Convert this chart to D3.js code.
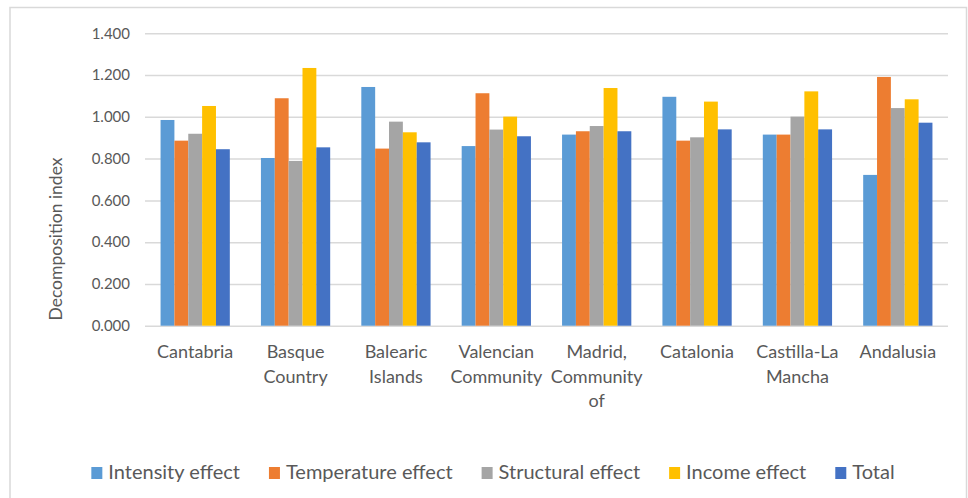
<!DOCTYPE html>
<html>
<head>
<meta charset="utf-8">
<script src="https://cdn.jsdelivr.net/npm/d3@7/dist/d3.min.js"></script>
<style>
  html, body { margin: 0; padding: 0; background: #ffffff; }
  svg { display: block; }
  text { font-family: Lato, "Open Sans", sans-serif; fill: #595959; }
</style>
</head>
<body>
<svg id="chart" width="968" height="498"></svg>
<script>
// Decomposition of the index by region
const regions = ["Cantabria", "Basque Country", "Balearic Islands", "Valencian Community",
                 "Madrid, Community of", "Catalonia", "Castilla-La Mancha", "Andalusia"];
const seriesNames = ["Intensity effect", "Temperature effect", "Structural effect", "Income effect", "Total"];
const intensityEffect   = [0.985, 0.803, 1.143, 0.860, 0.915, 1.096, 0.915, 0.722];
const temperatureEffect = [0.886, 1.089, 0.848, 1.113, 0.931, 0.886, 0.915, 1.191];
const structuralEffect  = [0.919, 0.789, 0.977, 0.939, 0.956, 0.902, 1.001, 1.042];
const incomeEffect      = [1.052, 1.234, 0.926, 1.001, 1.138, 1.073, 1.122, 1.084];
const totalIndex        = [0.845, 0.854, 0.878, 0.907, 0.931, 0.940, 0.940, 0.972];
const yTicks = [0, 0.2, 0.4, 0.6, 0.8, 1.0, 1.2, 1.4];
const seriesColors = ["#5B9BD5", "#ED7D31", "#A5A5A5", "#FFC000", "#4472C4"];

const seriesValues = [intensityEffect, temperatureEffect, structuralEffect, incomeEffect, totalIndex];

const svg = d3.select("#chart");
const plot = { left: 145, right: 948, top: 33.3, bottom: 325.7 };

// outer chart frame
svg.append("rect")
  .attr("x", 10).attr("y", 7.5)
  .attr("width", 956.5).attr("height", 500)
  .attr("fill", "#ffffff")
  .attr("stroke", "#D9D9D9").attr("stroke-width", 1.5);

const y = d3.scaleLinear().domain([0, 1.4]).range([plot.bottom, plot.top]);
const x0 = d3.scaleBand().domain(regions).range([plot.left, plot.right])
  .paddingInner(0.31).paddingOuter(0.155);
const x1 = d3.scaleBand().domain(seriesNames).range([0, x0.bandwidth()]).padding(0);

// gridlines + tick labels
const yAxis = d3.axisLeft(y).tickValues(yTicks)
  .tickSize(-(plot.right - plot.left)).tickPadding(15)
  .tickFormat(d3.format(".3f"));
const gy = svg.append("g").attr("transform", `translate(${plot.left},0)`).call(yAxis);
gy.select(".domain").remove();
gy.selectAll(".tick line").attr("stroke", "#D9D9D9").attr("stroke-width", 1.5);
gy.selectAll(".tick text").attr("font-size", 15).attr("fill", "#595959")
  .style("font-family", "Lato, 'Open Sans', sans-serif");

// bars
const groups = svg.append("g").selectAll("g")
  .data(regions)
  .join("g")
  .attr("transform", d => `translate(${x0(d)},0)`);

groups.selectAll("rect")
  .data((r, i) => seriesNames.map((s, j) => ({ s, v: seriesValues[j][i], c: seriesColors[j] })))
  .join("rect")
  .attr("x", d => x1(d.s))
  .attr("width", x1.bandwidth())
  .attr("y", d => y(d.v))
  .attr("height", d => y(0) - y(d.v))
  .attr("fill", d => d.c);

// category labels, wrapped to the band step
const step = x0.step();
const labelG = svg.append("g");
regions.forEach(r => {
  const cx = x0(r) + x0.bandwidth() / 2;
  const t = labelG.append("text")
    .attr("x", cx).attr("y", 358)
    .attr("text-anchor", "middle").attr("font-size", 18);
  const words = r.split(" ");
  let line = [];
  let tspan = t.append("tspan").attr("x", cx).attr("dy", 0);
  words.forEach(w => {
    line.push(w);
    tspan.text(line.join(" "));
    if (tspan.node().getComputedTextLength() > step - 2 && line.length > 1) {
      line.pop();
      tspan.text(line.join(" "));
      line = [w];
      tspan = t.append("tspan").attr("x", cx).attr("dy", 24.5).text(w);
    }
  });
});

// axis title
svg.append("text")
  .attr("transform", "translate(62,239) rotate(-90)")
  .attr("text-anchor", "middle").attr("font-size", 17.5)
  .text("Decomposition index");

// legend
const legend = svg.append("g");
const items = [];
seriesNames.forEach((s, i) => {
  const g = legend.append("g");
  g.append("rect").attr("width", 11).attr("height", 12).attr("y", -12).attr("fill", seriesColors[i]);
  const t = g.append("text").attr("x", 17).attr("y", 0).attr("font-size", 20).text(s);
  items.push({ g, w: 17 + t.node().getComputedTextLength() });
});
const gap = 29;
const totalW = d3.sum(items, d => d.w) + gap * (items.length - 1);
let lx = 493 - totalW / 2;
items.forEach(it => {
  it.g.attr("transform", `translate(${lx},479)`);
  lx += it.w + gap;
});
</script>
</body>
</html>
